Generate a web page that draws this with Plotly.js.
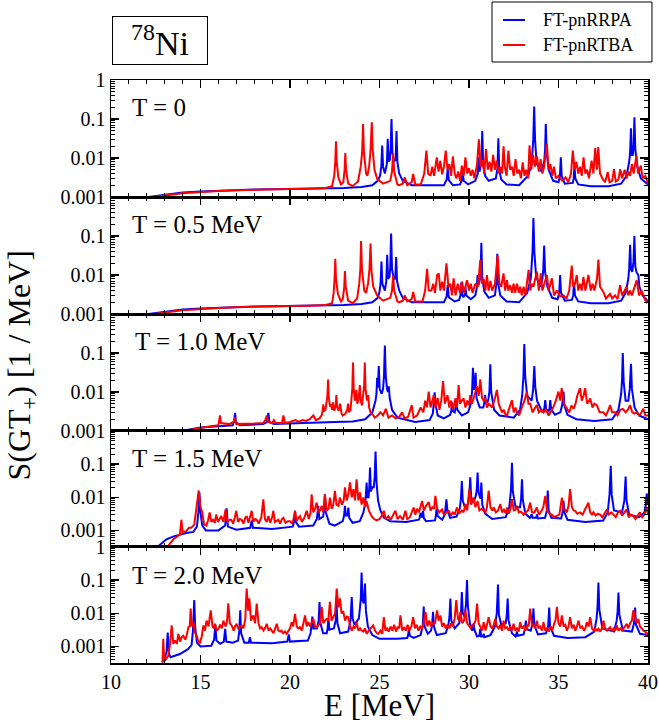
<!DOCTYPE html>
<html>
<head>
<meta charset="utf-8">
<script src="https://cdn.plot.ly/plotly-3.0.1.min.js"></script>
<style>
  html, body { margin: 0; padding: 0; background: #fff; }
  #chart { width: 659px; height: 723px; }
</style>
</head>
<body>
<div id="chart"></div>
<script>
// Gamow-Teller (GT+) strength of 78Ni at five temperatures.
// Each series is a list of [E (MeV), S (1/MeV)] points.

const temperatures = ['T = 0', 'T = 0.5 MeV', 'T = 1.0 MeV', 'T = 1.5 MeV', 'T = 2.0 MeV'];
const seriesNames = ['FT-pnRRPA', 'FT-pnRTBA'];
const decadeTicks = [1, 0.1, 0.01, 0.001];
const decadeLabels = ['1', '0.1', '0.01', '0.001'];

// ---- T = 0 ----
const rrpaT0 = [[12.1,.001],[13,.00115],[14,.0013],[15,.00138],[16,.00145],[17,.0015],[18,.00155],[19,.00158],[20,.0016],[21,.00163],[22,.00166],[23,.0017],[24,.0018],[24.6,.002],[24.9,.0026],[25.03,.0035],[25.1,.006],[25.15,.021],[25.2,.006],[25.3,.004],[25.41,.007],[25.46,.031],[25.51,.008],[25.58,.009],[25.62,.016],[25.67,.10],[25.72,.014],[25.8,.008],[25.9,.009],[25.95,.049],[26.0,.008],[26.1,.004],[26.3,.0026],[26.8,.002],[28.6,.002],[28.75,.0028],[28.81,.0052],[28.87,.0027],[29.1,.002],[29.5,.0021],[29.6,.0027],[29.65,.0046],[29.7,.0026],[29.95,.0021],[30.35,.0026],[30.49,.004],[30.54,.0104],[30.59,.0045],[30.69,.008],[30.74,.049],[30.79,.007],[30.9,.0035],[31.1,.0026],[31.5,.003],[31.59,.0055],[31.64,.032],[31.69,.005],[31.8,.0028],[32.1,.0021],[32.8,.002],[33.3,.0035],[33.5,.007],[33.59,.03],[33.64,.21],[33.69,.03],[33.78,.007],[34.05,.0045],[34.2,.008],[34.25,.016],[34.29,.074],[34.34,.014],[34.45,.005],[34.7,.0026],[35.0,.0024],[35.08,.0035],[35.13,.0104],[35.18,.0035],[35.35,.0022],[35.8,.0023],[35.85,.003],[35.89,.0064],[35.94,.003],[36.1,.0021],[36.8,.0019],[37.8,.0019],[38.5,.0022],[38.8,.0035],[38.95,.008],[39.0,.014],[39.05,.058],[39.1,.012],[39.15,.012],[39.2,.02],[39.24,.11],[39.29,.017],[39.4,.006],[39.6,.003],[40,.0021]];
const rtbaT0 = [[12.45,.001],[13,.0011],[14,.00125],[15,.00135],[16,.00143],[17,.0015],[18,.00155],[19,.00158],[20,.0016],[21,.00163],[22,.0017],[22.35,.0019],[22.47,.0035],[22.53,.008],[22.57,.027],[22.61,.008],[22.7,.0032],[22.85,.0021],[22.98,.0024],[23.05,.005],[23.09,.0135],[23.13,.005],[23.25,.0022],[23.5,.0019],[23.8,.0025],[23.95,.006],[24.03,.014],[24.08,.074],[24.13,.014],[24.25,.004],[24.32,.0035],[24.42,.006],[24.5,.016],[24.57,.082],[24.62,.016],[24.72,.005],[24.87,.0029],[25.2,.0022],[25.6,.0026],[25.7,.0045],[25.76,.013],[25.82,.0045],[26.0,.0021],[26.1,.002],[26.3,.0022],[26.41,.0032],[26.55,.002],[26.8,.0024],[26.88,.0039],[27.0,.0021],[27.3,.0021],[27.5,.004],[27.62,.0155],[27.72,.004],[27.85,.0035],[27.95,.006],[28.05,.0035],[28.2,.0104],[28.3,.0045],[28.4,.0085],[28.5,.0038],[28.6,.006],[28.7,.0155],[28.8,.005],[28.9,.007],[29.0,.0035],[29.1,.011],[29.2,.004],[29.3,.003],[29.4,.0045],[29.5,.0026],[29.6,.0064],[29.7,.0035],[29.8,.0104],[29.9,.004],[30.0,.0055],[30.1,.0035],[30.2,.005],[30.3,.003],[30.45,.007],[30.55,.03],[30.65,.006],[30.75,.009],[30.85,.004],[30.95,.017],[31.05,.005],[31.15,.008],[31.25,.0045],[31.35,.012],[31.45,.005],[31.55,.0085],[31.65,.004],[31.75,.006],[31.85,.004],[31.93,.02],[32.0,.006],[32.1,.0035],[32.2,.0155],[32.3,.005],[32.4,.006],[32.5,.0035],[32.6,.0094],[32.7,.004],[32.8,.005],[32.9,.003],[33.0,.0077],[33.1,.0035],[33.2,.005],[33.3,.003],[33.38,.021],[33.48,.005],[33.58,.012],[33.68,.006],[33.8,.011],[33.9,.0045],[34.0,.0094],[34.1,.004],[34.2,.006],[34.35,.023],[34.45,.005],[34.55,.007],[34.65,.0035],[34.75,.006],[34.85,.003],[35.0,.0035],[35.2,.0026],[35.4,.0032],[35.55,.0024],[35.7,.004],[35.8,.0155],[35.9,.005],[36.0,.008],[36.1,.004],[36.2,.006],[36.3,.0035],[36.4,.0104],[36.5,.004],[36.6,.005],[36.7,.003],[36.85,.0085],[36.95,.004],[37.05,.018],[37.15,.005],[37.22,.019],[37.32,.004],[37.45,.003],[37.6,.0024],[37.75,.0043],[37.85,.0024],[38.0,.0026],[38.1,.0052],[38.2,.0025],[38.35,.0028],[38.45,.0052],[38.55,.003],[38.7,.005],[38.8,.003],[38.9,.0045],[39.0,.0035],[39.1,.007],[39.2,.004],[39.35,.0115],[39.45,.004],[39.6,.0064],[39.7,.003],[39.85,.0035],[40,.0022]];

// ---- T = 0.5 MeV ----
const rrpaT05 = [[12.1,.001],[13,.00115],[14,.0013],[15,.00138],[16,.00145],[17,.0015],[18,.00155],[19,.00158],[20,.0016],[21,.00163],[22,.00166],[23,.0017],[24,.0018],[24.6,.002],[24.9,.0026],[24.99,.0035],[25.06,.006],[25.11,.022],[25.16,.006],[25.3,.004],[25.38,.007],[25.43,.033],[25.48,.008],[25.56,.009],[25.6,.016],[25.65,.115],[25.7,.014],[25.8,.008],[25.88,.008],[25.93,.029],[25.98,.007],[26.1,.004],[26.3,.0026],[26.8,.002],[28.6,.002],[28.75,.0028],[28.81,.0055],[28.87,.0027],[29.2,.0021],[29.45,.0023],[29.52,.003],[29.57,.0065],[29.62,.003],[29.7,.0027],[29.75,.0032],[29.8,.005],[29.85,.003],[30.1,.0024],[30.35,.003],[30.43,.0045],[30.48,.01],[30.53,.0055],[30.64,.009],[30.69,.067],[30.74,.009],[30.85,.0038],[31.1,.0026],[31.45,.003],[31.53,.006],[31.58,.035],[31.63,.006],[31.75,.003],[32.1,.0021],[32.8,.002],[33.25,.0035],[33.45,.008],[33.55,.04],[33.6,.29],[33.65,.04],[33.75,.009],[34.0,.005],[34.1,.008],[34.15,.014],[34.2,.057],[34.25,.012],[34.38,.005],[34.65,.0026],[34.95,.0024],[35.04,.0035],[35.09,.01],[35.14,.0035],[35.35,.0022],[35.75,.0023],[35.82,.003],[35.87,.0064],[35.92,.003],[36.1,.0021],[36.8,.0019],[37.8,.0019],[38.5,.0022],[38.75,.0035],[38.9,.008],[38.95,.015],[39.0,.06],[39.05,.014],[39.12,.012],[39.19,.022],[39.24,.1],[39.29,.017],[39.35,.012],[39.46,.01],[39.52,.005],[39.7,.003],[40,.0021]];
const rtbaT05 = [[12.45,.001],[13,.0011],[14,.00125],[15,.00135],[16,.00143],[17,.0015],[18,.00155],[19,.00158],[20,.0016],[21,.00163],[22,.0017],[22.35,.0019],[22.44,.0035],[22.49,.008],[22.53,.026],[22.57,.008],[22.68,.0032],[22.85,.0021],[22.95,.0024],[23.03,.005],[23.07,.0126],[23.11,.005],[23.25,.0022],[23.5,.0019],[23.75,.0025],[23.87,.006],[23.93,.014],[23.97,.074],[24.02,.014],[24.15,.004],[24.25,.0035],[24.36,.006],[24.44,.014],[24.5,.064],[24.55,.013],[24.65,.005],[24.87,.003],[25.2,.0022],[25.6,.0026],[25.7,.004],[25.76,.01],[25.82,.004],[26.0,.0021],[26.1,.002],[26.3,.0022],[26.41,.003],[26.55,.0021],[26.8,.0024],[26.88,.0037],[27.0,.0021],[27.4,.0021],[27.55,.004],[27.66,.0145],[27.75,.004],[27.9,.004],[28.0,.006],[28.1,.0035],[28.22,.01],[28.31,.011],[28.4,.004],[28.5,.0067],[28.6,.004],[28.74,.02],[28.85,.005],[28.95,.006],[29.05,.003],[29.14,.0082],[29.25,.003],[29.37,.006],[29.5,.0035],[29.61,.0067],[29.72,.0035],[29.89,.0074],[30.0,.004],[30.1,.006],[30.2,.0035],[30.35,.006],[30.5,.005],[30.63,.024],[30.72,.006],[30.82,.008],[30.92,.004],[31.0,.01],[31.1,.004],[31.2,.007],[31.3,.004],[31.45,.006],[31.6,.032],[31.7,.006],[31.8,.005],[31.93,.011],[32.02,.004],[32.12,.0074],[32.2,.004],[32.3,.0055],[32.4,.0035],[32.49,.006],[32.58,.0035],[32.68,.006],[32.78,.0035],[32.86,.005],[32.95,.003],[33.05,.005],[33.15,.003],[33.33,.0135],[33.42,.004],[33.5,.006],[33.6,.005],[33.79,.0122],[33.9,.004],[34.01,.011],[34.1,.004],[34.2,.006],[34.35,.01],[34.45,.004],[34.63,.0082],[34.75,.003],[34.91,.004],[35.1,.0028],[35.28,.003],[35.45,.0025],[35.6,.004],[35.74,.0175],[35.82,.005],[35.92,.006],[36.02,.01],[36.1,.004],[36.21,.006],[36.3,.004],[36.39,.009],[36.5,.004],[36.67,.01],[36.8,.004],[36.9,.006],[37.0,.004],[37.15,.008],[37.23,.025],[37.32,.005],[37.51,.0037],[37.65,.0025],[37.88,.0033],[38.0,.0025],[38.16,.003],[38.3,.0024],[38.44,.0055],[38.55,.003],[38.7,.004],[38.81,.005],[38.9,.003],[39.0,.004],[39.1,.003],[39.25,.005],[39.37,.0074],[39.5,.003],[39.65,.004],[39.8,.0025],[39.93,.002],[40,.0021]];

// ---- T = 1.0 MeV ----
const rrpaT10 = [[13.95,.001],[14.5,.0011],[15,.00122],[16,.00132],[16.8,.0014],[16.88,.0018],[16.93,.0029],[16.98,.0017],[17.2,.0014],[18.5,.0015],[18.72,.0017],[18.79,.0029],[18.85,.0017],[19.1,.0015],[20.5,.0016],[21.5,.00165],[22.5,.0017],[23.5,.00175],[24.2,.002],[24.6,.003],[24.78,.006],[24.83,.009],[24.87,.023],[24.91,.013],[24.96,.046],[25.01,.012],[25.12,.009],[25.2,.012],[25.25,.025],[25.3,.155],[25.35,.025],[25.42,.012],[25.47,.01],[25.52,.014],[25.57,.007],[25.7,.0035],[26.0,.0022],[27.0,.0017],[27.8,.0019],[27.98,.0028],[28.04,.005],[28.08,.0098],[28.13,.005],[28.25,.0025],[28.6,.0021],[28.95,.0026],[29.01,.0033],[29.05,.0054],[29.1,.0032],[29.2,.003],[29.25,.004],[29.3,.0068],[29.35,.0035],[29.6,.0025],[29.95,.003],[30.1,.005],[30.17,.01],[30.22,.042],[30.27,.012],[30.32,.012],[30.37,.031],[30.42,.007],[30.6,.004],[30.8,.004],[30.86,.0055],[30.9,.0084],[30.95,.005],[31.07,.006],[31.14,.01],[31.19,.051],[31.24,.01],[31.4,.0035],[31.7,.0025],[32.5,.0022],[32.85,.0035],[32.97,.008],[33.04,.025],[33.09,.17],[33.14,.025],[33.25,.008],[33.5,.006],[33.58,.011],[33.65,.046],[33.7,.014],[33.8,.006],[34.1,.003],[34.21,.0038],[34.26,.0062],[34.31,.0036],[34.45,.0032],[34.5,.0038],[34.54,.0062],[34.59,.0036],[34.8,.0026],[35.1,.003],[35.2,.0045],[35.28,.0102],[35.33,.0045],[35.5,.0026],[36.0,.002],[37.0,.0018],[38.0,.002],[38.35,.0035],[38.5,.009],[38.55,.02],[38.59,.1],[38.64,.018],[38.75,.006],[38.9,.006],[38.98,.012],[39.05,.053],[39.1,.012],[39.25,.004],[39.5,.0025],[40,.002]];
const rtbaT10 = [[14.05,.001],[14.5,.0011],[15,.0012],[15.5,.0013],[16.0,.0014],[16.05,.0018],[16.09,.0025],[16.14,.0016],[16.6,.0015],[16.85,.0017],[16.93,.0022],[17.0,.0015],[17.5,.0015],[18.0,.00155],[18.5,.0016],[18.62,.0019],[18.7,.0025],[18.78,.0017],[19.0,.0016],[19.1,.0019],[19.2,.0016],[19.55,.0016],[19.63,.0025],[19.72,.0016],[20.0,.0017],[20.3,.0019],[20.5,.0017],[20.7,.0019],[20.9,.0018],[21.1,.002],[21.3,.0025],[21.45,.0019],[21.65,.0021],[21.78,.0026],[21.83,.0035],[21.86,.0048],[21.9,.0032],[21.98,.0035],[22.05,.0058],[22.09,.008],[22.13,.021],[22.17,.007],[22.24,.0042],[22.3,.0048],[22.35,.0035],[22.4,.0054],[22.47,.0033],[22.55,.0045],[22.59,.0083],[22.64,.004],[22.72,.0033],[22.8,.005],[22.88,.0028],[22.95,.0025],[23.1,.0028],[23.2,.0035],[23.24,.005],[23.3,.003],[23.38,.0035],[23.44,.006],[23.48,.012],[23.52,.057],[23.56,.012],[23.63,.006],[23.67,.008],[23.71,.0113],[23.76,.005],[23.82,.006],[23.86,.009],[23.9,.015],[23.95,.006],[24.02,.0045],[24.08,.008],[24.14,.014],[24.18,.057],[24.22,.012],[24.3,.006],[24.37,.0083],[24.42,.004],[24.5,.003],[24.65,.0025],[24.74,.0022],[24.9,.0025],[25.05,.003],[25.2,.0025],[25.35,.0037],[25.5,.0022],[25.7,.0025],[25.9,.0021],[26.1,.0023],[26.26,.003],[26.4,.0021],[26.6,.0023],[26.8,.0046],[26.9,.0022],[27.1,.0025],[27.3,.004],[27.45,.003],[27.55,.006],[27.65,.004],[27.75,.0102],[27.85,.004],[27.95,.006],[28.03,.0083],[28.12,.004],[28.25,.007],[28.35,.0035],[28.45,.006],[28.55,.019],[28.65,.005],[28.8,.0083],[28.9,.004],[29.0,.006],[29.1,.0035],[29.24,.0068],[29.33,.004],[29.42,.015],[29.5,.005],[29.6,.006],[29.7,.0068],[29.8,.004],[29.9,.006],[30.0,.0045],[30.07,.0083],[30.17,.005],[30.3,.008],[30.45,.014],[30.55,.008],[30.63,.021],[30.73,.007],[30.82,.006],[30.91,.0068],[31.0,.004],[31.1,.005],[31.19,.0046],[31.3,.004],[31.45,.007],[31.56,.0113],[31.66,.005],[31.75,.004],[31.84,.003],[31.95,.0035],[32.05,.0025],[32.12,.0025],[32.25,.004],[32.4,.0062],[32.5,.003],[32.6,.004],[32.68,.003],[32.8,.0025],[32.95,.004],[33.1,.006],[33.23,.0102],[33.32,.005],[33.42,.005],[33.55,.003],[33.7,.004],[33.79,.0046],[33.9,.003],[34.05,.0035],[34.16,.003],[34.3,.0035],[34.45,.0025],[34.54,.003],[34.7,.004],[34.85,.006],[35.0,.0102],[35.1,.006],[35.18,.0125],[35.3,.005],[35.46,.0037],[35.6,.003],[35.72,.0045],[35.84,.0037],[35.95,.005],[36.05,.008],[36.2,.0125],[36.3,.006],[36.4,.008],[36.49,.0125],[36.6,.005],[36.77,.0068],[36.9,.004],[37.0,.005],[37.14,.0046],[37.3,.003],[37.5,.003],[37.65,.0025],[37.8,.0035],[37.88,.0046],[38.0,.003],[38.16,.003],[38.3,.0025],[38.45,.0035],[38.6,.0037],[38.75,.003],[38.88,.0035],[39.0,.0046],[39.12,.003],[39.25,.0028],[39.37,.003],[39.5,.0025],[39.6,.0028],[39.74,.0037],[39.85,.0025],[40,.0025]];

// ---- T = 1.5 MeV ----
const rrpaT15 = [[12.6,.00032],[12.9,.00045],[13.1,.00054],[13.5,.00066],[13.85,.00076],[14.2,.00084],[14.6,.0009],[14.8,.0013],[14.88,.0035],[14.94,.014],[15.0,.0035],[15.1,.0014],[15.3,.001],[16.0,.001],[16.38,.0014],[16.46,.0046],[16.53,.0013],[17.0,.00105],[17.78,.0012],[17.86,.002],[17.93,.0012],[19.0,.0011],[20.15,.0013],[20.23,.0018],[20.28,.0039],[20.33,.0018],[20.5,.0013],[21.3,.0014],[21.5,.0022],[21.58,.0055],[21.64,.0022],[21.85,.0026],[21.91,.0045],[21.95,.0123],[22.0,.0035],[22.2,.0016],[22.5,.0014],[22.95,.0019],[23.02,.0028],[23.07,.0055],[23.12,.0028],[23.21,.0028],[23.26,.0049],[23.31,.0024],[23.5,.0017],[23.9,.0019],[24.1,.0035],[24.2,.0065],[24.24,.012],[24.28,.028],[24.33,.01],[24.39,.01],[24.43,.02],[24.47,.079],[24.52,.015],[24.6,.02],[24.68,.02],[24.73,.04],[24.78,.24],[24.83,.03],[24.92,.008],[25.05,.004],[25.25,.0024],[25.6,.0019],[26.5,.0018],[27.2,.0021],[27.25,.0025],[27.29,.0034],[27.34,.0026],[27.38,.0026],[27.43,.0039],[27.48,.0023],[27.6,.0019],[28.1,.002],[28.15,.0028],[28.2,.0049],[28.25,.0027],[28.5,.0021],[28.65,.003],[28.7,.0045],[28.74,.0087],[28.79,.004],[28.95,.0024],[29.3,.0026],[29.48,.0045],[29.55,.009],[29.6,.031],[29.65,.008],[29.8,.0045],[29.95,.0065],[30.02,.012],[30.07,.04],[30.12,.01],[30.25,.007],[30.38,.011],[30.43,.016],[30.48,.056],[30.53,.014],[30.6,.01],[30.64,.009],[30.69,.028],[30.74,.006],[30.9,.0032],[31.3,.0022],[32.05,.0025],[32.25,.005],[32.35,.018],[32.4,.11],[32.45,.015],[32.6,.005],[32.85,.005],[32.91,.009],[32.96,.035],[33.01,.008],[33.15,.0032],[33.4,.0024],[33.45,.0026],[33.5,.0031],[33.55,.0024],[33.75,.0024],[33.8,.003],[33.85,.0023],[34.25,.0024],[34.35,.004],[34.4,.016],[34.45,.004],[34.6,.0024],[35.15,.0023],[35.23,.0035],[35.28,.0078],[35.33,.0035],[35.5,.0021],[36.5,.0018],[37.5,.002],[37.75,.0035],[37.85,.012],[37.92,.089],[37.97,.012],[38.1,.004],[38.55,.0035],[38.68,.008],[38.75,.042],[38.8,.008],[38.95,.003],[39.5,.0025],[39.8,.0035],[39.88,.006],[39.93,.013],[40,.006]];
const rtbaT15 = [[13.15,.00032],[13.5,.00055],[13.85,.00076],[13.93,.0021],[14.0,.0009],[14.21,.00095],[14.35,.0012],[14.49,.0012],[14.65,.0015],[14.77,.0055],[14.9,.016],[15.0,.005],[15.1,.0035],[15.2,.0015],[15.33,.0014],[15.42,.002],[15.51,.0035],[15.6,.0018],[15.7,.0021],[15.8,.0017],[15.88,.003],[15.98,.0018],[16.08,.0022],[16.16,.0027],[16.28,.0018],[16.4,.0043],[16.5,.0018],[16.62,.0021],[16.72,.0021],[16.82,.0016],[16.92,.0025],[17.0,.0039],[17.1,.0018],[17.2,.0022],[17.3,.0021],[17.4,.0016],[17.5,.0024],[17.58,.0027],[17.68,.0017],[17.78,.0025],[17.86,.0039],[17.95,.0018],[18.05,.0022],[18.14,.0021],[18.25,.0016],[18.4,.0025],[18.51,.0087],[18.6,.0022],[18.7,.0018],[18.79,.0027],[18.9,.0017],[19.0,.0025],[19.07,.0039],[19.16,.0018],[19.25,.002],[19.35,.0021],[19.45,.0016],[19.55,.0022],[19.63,.0024],[19.75,.0017],[19.88,.0019],[20.0,.0019],[20.12,.0016],[20.2,.0022],[20.28,.0039],[20.38,.0019],[20.47,.0024],[20.56,.0027],[20.66,.0018],[20.8,.0024],[20.93,.0039],[21.05,.0022],[21.15,.0035],[21.21,.0123],[21.3,.0035],[21.4,.0045],[21.49,.0069],[21.58,.0035],[21.68,.004],[21.77,.0055],[21.86,.0035],[21.95,.0123],[22.05,.004],[22.15,.0045],[22.23,.0098],[22.33,.0045],[22.42,.006],[22.51,.0155],[22.6,.006],[22.7,.0055],[22.79,.0098],[22.9,.006],[23.0,.008],[23.07,.02],[23.17,.008],[23.26,.012],[23.35,.028],[23.45,.01],[23.54,.0175],[23.63,.008],[23.72,.035],[23.82,.008],[23.91,.014],[24.0,.006],[24.1,.0098],[24.2,.005],[24.28,.0077],[24.4,.004],[24.56,.0027],[24.7,.0022],[24.84,.002],[25.0,.0022],[25.12,.0027],[25.24,.0039],[25.35,.0022],[25.5,.0027],[25.62,.0021],[25.75,.0027],[25.89,.0039],[26.0,.0022],[26.15,.0027],[26.3,.0021],[26.45,.0039],[26.55,.0022],[26.7,.0025],[26.8,.0035],[26.91,.0049],[27.0,.003],[27.1,.0045],[27.2,.0035],[27.3,.005],[27.38,.0077],[27.48,.004],[27.6,.0055],[27.75,.0072],[27.85,.004],[27.95,.005],[28.05,.0045],[28.12,.011],[28.22,.0045],[28.35,.0035],[28.49,.0043],[28.6,.003],[28.75,.0035],[28.87,.0039],[28.98,.0028],[29.1,.0035],[29.2,.003],[29.33,.0049],[29.45,.0032],[29.6,.004],[29.7,.0035],[29.8,.0062],[29.9,.004],[30.02,.018],[30.12,.006],[30.26,.0098],[30.36,.005],[30.48,.0077],[30.58,.004],[30.7,.0045],[30.82,.0039],[30.92,.0035],[31.0,.005],[31.1,.016],[31.2,.005],[31.3,.004],[31.38,.0049],[31.5,.0035],[31.62,.004],[31.75,.0062],[31.85,.0035],[31.95,.0042],[32.05,.0033],[32.12,.0049],[32.22,.0032],[32.32,.0045],[32.4,.0087],[32.5,.004],[32.6,.0042],[32.68,.0055],[32.78,.0035],[32.9,.0037],[33.05,.003],[33.15,.0035],[33.3,.004],[33.42,.0069],[33.52,.0035],[33.65,.0035],[33.79,.0049],[33.9,.003],[34.0,.0035],[34.15,.005],[34.26,.011],[34.36,.004],[34.5,.0032],[34.63,.003],[34.75,.0025],[34.91,.0027],[35.05,.003],[35.19,.0098],[35.28,.0043],[35.37,.0043],[35.47,.0035],[35.56,.0055],[35.65,.0175],[35.75,.005],[35.85,.004],[35.93,.0039],[36.05,.0032],[36.21,.0035],[36.35,.003],[36.5,.0045],[36.67,.0069],[36.77,.0035],[36.87,.003],[36.95,.0035],[37.08,.0028],[37.2,.0032],[37.32,.003],[37.45,.0025],[37.58,.0035],[37.7,.0043],[37.82,.003],[37.95,.0035],[38.07,.003],[38.2,.0025],[38.32,.0035],[38.44,.0039],[38.55,.0028],[38.68,.0035],[38.81,.0043],[38.92,.0025],[39.05,.003],[39.18,.0027],[39.3,.0022],[39.43,.0028],[39.55,.0035],[39.68,.0025],[39.8,.003],[39.93,.0049],[40,.003]];

// ---- T = 2.0 MeV ----
const rrpaT20 = [[12.85,.00033],[13.0,.00042],[13.1,.0007],[13.17,.0026],[13.23,.0006],[13.33,.00047],[13.85,.00059],[14.3,.00083],[14.5,.0011],[14.58,.003],[14.65,.025],[14.7,.004],[14.8,.0013],[15.0,.001],[15.6,.00105],[15.76,.0016],[15.83,.0045],[15.89,.0015],[16.1,.0012],[16.3,.0014],[16.38,.0034],[16.44,.0014],[16.8,.0013],[17.1,.0015],[17.17,.003],[17.22,.0123],[17.27,.0025],[17.45,.0013],[17.7,.0013],[17.76,.0019],[17.82,.0013],[19.0,.00125],[19.85,.0014],[19.93,.0023],[20.0,.0014],[21.0,.0015],[21.15,.0025],[21.2,.004],[21.25,.008],[21.3,.0035],[21.5,.0035],[21.6,.006],[21.65,.022],[21.7,.005],[21.85,.0025],[22.05,.0025],[22.1,.0035],[22.15,.0068],[22.2,.0032],[22.45,.0035],[22.55,.006],[22.6,.022],[22.65,.005],[22.8,.0025],[23.25,.0028],[23.38,.006],[23.45,.031],[23.5,.007],[23.6,.0045],[23.85,.007],[23.95,.025],[24.0,.17],[24.05,.025],[24.12,.02],[24.19,.079],[24.24,.012],[24.35,.004],[24.6,.0022],[25.0,.0017],[26.0,.0017],[26.55,.0018],[26.6,.0022],[26.64,.0034],[26.69,.0021],[26.9,.0018],[27.3,.0022],[27.42,.0045],[27.47,.016],[27.52,.004],[27.7,.0024],[27.88,.003],[27.94,.0045],[27.99,.011],[28.04,.004],[28.2,.0022],[28.7,.0025],[28.85,.0045],[28.91,.008],[28.96,.028],[29.01,.006],[29.2,.0035],[29.45,.005],[29.55,.01],[29.6,.044],[29.65,.01],[29.75,.008],[29.83,.018],[29.89,.1],[29.94,.016],[30.05,.005],[30.18,.003],[30.22,.0035],[30.26,.0048],[30.3,.0032],[30.45,.002],[30.58,.0021],[30.63,.0034],[30.68,.002],[30.78,.002],[30.82,.0024],[30.86,.0019],[31.2,.0022],[31.45,.004],[31.55,.01],[31.62,.074],[31.67,.009],[31.8,.0045],[32.05,.005],[32.11,.009],[32.16,.028],[32.21,.006],[32.4,.0025],[32.6,.002],[32.65,.0024],[32.68,.0028],[32.72,.0021],[33.05,.0023],[33.13,.0035],[33.18,.006],[33.23,.0033],[33.45,.003],[33.55,.005],[33.6,.014],[33.65,.0045],[33.85,.0023],[34.3,.0025],[34.42,.004],[34.48,.015],[34.53,.004],[34.75,.0021],[35.5,.0018],[36.5,.0019],[37.0,.0028],[37.13,.007],[37.18,.015],[37.23,.085],[37.28,.013],[37.45,.0035],[38.1,.0028],[38.25,.006],[38.3,.011],[38.35,.042],[38.4,.009],[38.6,.003],[39.1,.0028],[39.22,.005],[39.28,.015],[39.33,.0045],[39.55,.0024],[40,.0022]];
const rtbaT20 = [[12.88,.00033],[12.92,.0017],[12.97,.00035],[13.05,.0004],[13.2,.00052],[13.3,.0012],[13.39,.0043],[13.48,.0012],[13.58,.0015],[13.68,.0012],[13.76,.0024],[13.86,.0014],[13.95,.0019],[14.04,.0021],[14.15,.0016],[14.25,.0024],[14.32,.0038],[14.4,.004],[14.45,.0138],[14.52,.004],[14.6,.0054],[14.7,.0025],[14.79,.0021],[14.88,.0014],[14.97,.0013],[15.07,.002],[15.16,.0043],[15.25,.003],[15.34,.006],[15.45,.004],[15.57,.0123],[15.67,.004],[15.75,.0035],[15.81,.0048],[15.9,.003],[16.0,.0034],[16.1,.0045],[16.2,.0035],[16.28,.006],[16.4,.004],[16.48,.0055],[16.55,.02],[16.64,.005],[16.74,.0043],[16.85,.003],[16.93,.004],[17.02,.0048],[17.12,.0033],[17.2,.004],[17.3,.0043],[17.4,.0035],[17.5,.0065],[17.58,.056],[17.66,.012],[17.73,.028],[17.82,.006],[17.95,.0086],[18.05,.005],[18.14,.0195],[18.24,.005],[18.33,.0035],[18.42,.0038],[18.52,.003],[18.6,.0035],[18.7,.0048],[18.8,.003],[18.9,.0035],[18.98,.003],[19.08,.0025],[19.17,.0035],[19.26,.0048],[19.35,.003],[19.45,.0028],[19.53,.003],[19.62,.0025],[19.72,.0028],[19.81,.0024],[19.92,.003],[20.0,.0035],[20.09,.0054],[20.18,.004],[20.28,.0096],[20.38,.004],[20.47,.0035],[20.56,.0038],[20.66,.003],[20.75,.005],[20.84,.0086],[20.93,.004],[21.02,.0054],[21.12,.004],[21.2,.005],[21.3,.0068],[21.4,.004],[21.5,.0038],[21.58,.0043],[21.68,.005],[21.77,.0155],[21.86,.005],[21.95,.006],[22.05,.0068],[22.14,.006],[22.23,.022],[22.32,.006],[22.42,.0076],[22.52,.01],[22.61,.056],[22.7,.015],[22.79,.028],[22.88,.01],[22.98,.011],[23.08,.006],[23.17,.008],[23.26,.0076],[23.36,.004],[23.45,.003],[23.55,.004],[23.64,.0035],[23.72,.0054],[23.82,.003],[23.92,.0035],[24.0,.003],[24.1,.0028],[24.19,.0035],[24.28,.0024],[24.4,.003],[24.5,.0035],[24.65,.0043],[24.75,.003],[24.85,.0025],[24.93,.0024],[25.05,.003],[25.15,.0024],[25.24,.0076],[25.33,.003],[25.42,.0035],[25.52,.0028],[25.62,.004],[25.72,.003],[25.82,.0045],[25.92,.0028],[26.02,.004],[26.1,.0035],[26.17,.0086],[26.27,.003],[26.37,.0038],[26.47,.003],[26.57,.0045],[26.67,.003],[26.78,.004],[26.88,.0076],[26.98,.0035],[27.08,.0045],[27.18,.003],[27.28,.004],[27.38,.0035],[27.47,.005],[27.57,.011],[27.67,.004],[27.78,.006],[27.88,.004],[27.98,.005],[28.1,.005],[28.22,.0123],[28.3,.006],[28.4,.0086],[28.5,.004],[28.6,.005],[28.7,.0035],[28.8,.0045],[28.9,.0035],[29.0,.005],[29.1,.004],[29.2,.007],[29.29,.025],[29.38,.007],[29.46,.006],[29.52,.011],[29.62,.005],[29.72,.006],[29.8,.0123],[29.9,.005],[30.0,.004],[30.1,.0035],[30.2,.0045],[30.3,.005],[30.37,.006],[30.45,.0195],[30.54,.005],[30.64,.004],[30.73,.003],[30.82,.0054],[30.92,.003],[31.0,.0045],[31.1,.0076],[31.2,.004],[31.3,.0035],[31.38,.0045],[31.47,.0068],[31.56,.004],[31.66,.0035],[31.75,.0045],[31.84,.003],[31.93,.006],[32.02,.0035],[32.12,.0038],[32.22,.003],[32.3,.004],[32.4,.003],[32.49,.0048],[32.58,.003],[32.68,.0035],[32.78,.0028],[32.86,.0054],[32.95,.0035],[33.05,.004],[33.15,.003],[33.25,.0045],[33.33,.004],[33.42,.0138],[33.52,.004],[33.6,.0045],[33.7,.0035],[33.79,.006],[33.88,.0035],[33.98,.004],[34.08,.003],[34.16,.0054],[34.26,.003],[34.36,.0035],[34.46,.0028],[34.56,.004],[34.66,.003],[34.76,.005],[34.83,.006],[34.91,.0155],[35.0,.005],[35.1,.004],[35.19,.0086],[35.28,.004],[35.38,.0045],[35.47,.003],[35.56,.004],[35.65,.0076],[35.75,.0035],[35.85,.0045],[35.94,.003],[36.03,.004],[36.12,.006],[36.22,.0035],[36.32,.004],[36.42,.003],[36.5,.0035],[36.58,.0054],[36.68,.004],[36.77,.0076],[36.87,.0035],[36.97,.003],[37.06,.0035],[37.15,.003],[37.23,.0034],[37.33,.0028],[37.42,.0035],[37.51,.006],[37.6,.0035],[37.7,.003],[37.8,.0035],[37.88,.0038],[37.98,.003],[38.08,.0035],[38.17,.003],[38.25,.0043],[38.35,.003],[38.45,.0035],[38.55,.003],[38.65,.0035],[38.73,.004],[38.81,.0048],[38.9,.0035],[39.0,.005],[39.1,.006],[39.18,.0123],[39.28,.007],[39.37,.005],[39.46,.0068],[39.55,.004],[39.65,.0035],[39.75,.003],[39.85,.0028],[39.93,.0024],[40,.0025]];

const rrpaSets = [rrpaT0, rrpaT05, rrpaT10, rrpaT15, rrpaT20];
const rtbaSets = [rtbaT0, rtbaT05, rtbaT10, rtbaT15, rtbaT20];
// lower end of each panel's log axis (decades)
const panelLogMin = [-3, -3, -3, -3.5, -3.5];

const FONT = 'Liberation Serif, Times New Roman, serif';
const COLORS = ['#0000ff', '#ff0000'];

// vertical panel edges in paper units, top panel first
const edges = [1, 0.7993, 0.5986, 0.398, 0.199, 0];
// vertical centres of the temperature labels, paper units
const labelY = [0.952, 0.7513, 0.5515, 0.3503, 0.1506];

const minorVals = [];
for (let d = -4; d <= -1; d++) {
  for (let m = 2; m <= 9; m++) minorVals.push(m * Math.pow(10, d));
}

const traces = [];
const layout = {
  width: 659, height: 723,
  margin: {l: 111, r: 11, t: 80, b: 60},
  paper_bgcolor: '#fff', plot_bgcolor: '#fff',
  font: {family: FONT, color: '#000', size: 20},
  showlegend: false,
  annotations: [],
  shapes: []
};

temperatures.forEach((label, i) => {
  const s = i === 0 ? '' : String(i + 1);
  const bottom = i === temperatures.length - 1;
  [rrpaSets[i], rtbaSets[i]].forEach((set, k) => {
    traces.push({
      x: set.map(p => p[0]), y: set.map(p => p[1]),
      xaxis: 'x' + s, yaxis: 'y' + s, mode: 'lines', name: seriesNames[k],
      line: {color: COLORS[k], width: 2}, hoverinfo: 'skip'
    });
  });

  // the "1" label is shown only where it does not collide with the panel above
  const showTop = (i === 0 || i === 4);
  const vals = showTop ? decadeTicks : decadeTicks.slice(1);
  const texts = showTop ? decadeLabels : decadeLabels.slice(1);

  layout['xaxis' + s] = {
    domain: [0, 1], range: [10, 40], anchor: 'y' + s,
    showline: true, linecolor: '#000', linewidth: 1.5, mirror: 'allticks',
    ticks: 'inside', ticklen: 8, tickwidth: 1.3, tickcolor: '#000',
    tickmode: 'linear', tick0: 10, dtick: 5,
    minor: {ticks: 'inside', ticklen: 4, tickwidth: 1, tickcolor: '#000', tickmode: 'linear', tick0: 10, dtick: 1},
    showticklabels: bottom, tickfont: {family: FONT, size: 20},
    showgrid: false, zeroline: false, fixedrange: true
  };
  if (bottom) {
    layout['xaxis' + s].title = {text: 'E [MeV]', font: {family: FONT, size: 31}, standoff: 2};
  }
  layout['yaxis' + s] = {
    type: 'log', domain: [edges[i + 1], edges[i]], range: [panelLogMin[i], 0], anchor: 'x' + s,
    showline: true, linecolor: '#000', linewidth: 1.5, mirror: 'allticks',
    ticks: 'inside', ticklen: 8, tickwidth: 1.3, tickcolor: '#000',
    tickmode: 'array', tickvals: vals, ticktext: texts,
    minor: {ticks: 'inside', ticklen: 4, tickwidth: 1, tickcolor: '#000', tickmode: 'array', tickvals: minorVals},
    tickfont: {family: FONT, size: 20},
    showgrid: false, zeroline: false, fixedrange: true
  };

  layout.annotations.push({
    text: label, xref: 'paper', yref: 'paper',
    x: i === 2 ? 0.041 : 0.035, xanchor: 'left',
    y: labelY[i], yanchor: 'middle',
    showarrow: false, font: {family: FONT, size: 25, color: '#000'}
  });
});

// legend box in the top-right corner
const legendBox = {x0: 0.7095, x1: 1.0074, y0: 1.0309, y1: 1.1338};
const legendRows = [1.1029, 1.0600];
layout.shapes.push({
  type: 'rect', xref: 'paper', yref: 'paper',
  x0: legendBox.x0, x1: legendBox.x1, y0: legendBox.y0, y1: legendBox.y1,
  line: {color: '#000', width: 1}, fillcolor: '#fff', layer: 'above'
});
seriesNames.forEach((name, k) => {
  layout.shapes.push({
    type: 'line', xref: 'paper', yref: 'paper',
    x0: 0.7300, x1: 0.7709, y0: legendRows[k], y1: legendRows[k],
    line: {color: COLORS[k], width: 2}, layer: 'above'
  });
  layout.annotations.push({
    text: name, xref: 'paper', yref: 'paper',
    x: 0.8007, y: legendRows[k], xanchor: 'left', yanchor: 'middle',
    showarrow: false, font: {family: FONT, size: 18, color: '#000'}
  });
});

// nucleus label box
layout.annotations.push({
  text: '<sup>78</sup>Ni', xref: 'paper', yref: 'paper',
  x: 0.0912, y: 1.068, xanchor: 'center', yanchor: 'middle',
  showarrow: false, width: 92, height: 45, bordercolor: '#000', borderwidth: 1,
  font: {family: FONT, size: 34, color: '#000'}
});

// shared y-axis title
layout.annotations.push({
  text: 'S(GT<sub>+</sub>) [1 / MeV]', xref: 'paper', yref: 'paper',
  x: -0.166, y: 0.51, xanchor: 'center', yanchor: 'middle', textangle: -90,
  showarrow: false, font: {family: FONT, size: 32, color: '#000'}
});

Plotly.newPlot('chart', traces, layout, {staticPlot: true, displayModeBar: false});
</script>
</body>
</html>
